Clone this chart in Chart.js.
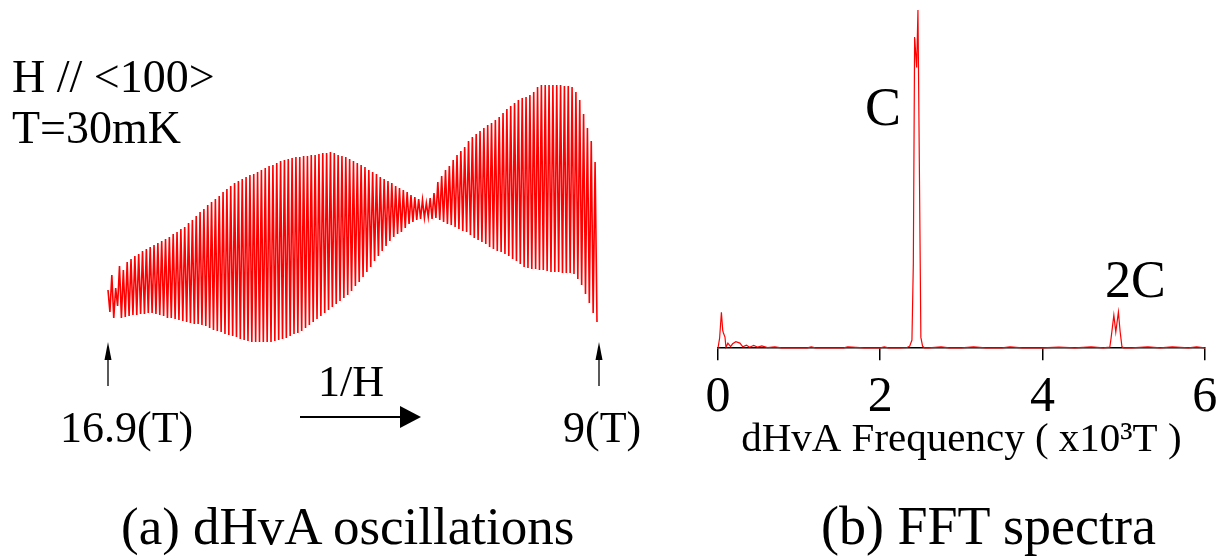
<!DOCTYPE html>
<html>
<head>
<meta charset="utf-8">
<script src="https://cdn.jsdelivr.net/npm/chart.js@4.4.1/dist/chart.umd.min.js"></script>
<style>
  html, body { margin: 0; padding: 0; background: #fff; }
  #page { position: relative; width: 1230px; height: 558px; overflow: hidden; background: #fff; }
  #page canvas, #page svg { position: absolute; }
  #osc { left: 100px; top: 50px; }
  #fft { left: 690px; top: 0px; }
  #notes { left: 0; top: 0; }
  #notes text { font-family: "Liberation Serif", "Times New Roman", serif; fill: #000; }
</style>
</head>
<body>
<div id="page">
  <canvas id="osc" width="510" height="320"></canvas>
  <canvas id="fft" width="540" height="465"></canvas>
  <svg id="notes" width="1230" height="558">
    <text x="12" y="92" font-size="46">H // &lt;100&gt;</text>
    <text x="12" y="143" font-size="46">T=30mK</text>
    <text x="60" y="442" font-size="44">16.9(T)</text>
    <text x="563" y="442" font-size="44">9(T)</text>
    <text x="318" y="396" font-size="44">1/H</text>
    <text x="865" y="125" font-size="54">C</text>
    <text x="1105" y="297" font-size="52">2C</text>
    <text x="121" y="544" font-size="53">(a) dHvA oscillations</text>
    <text x="821" y="544" font-size="54">(b) FFT spectra</text>
    <line x1="108" y1="386" x2="108" y2="356" stroke="#000" stroke-width="1.3"/>
    <polygon points="108,342 104.5,360 111.5,360" fill="#000"/>
    <line x1="599" y1="386" x2="599" y2="356" stroke="#000" stroke-width="1.3"/>
    <polygon points="599,342 595.5,360 602.5,360" fill="#000"/>
    <line x1="300" y1="417" x2="403" y2="417" stroke="#000" stroke-width="2"/>
    <polygon points="421,417 400,406 400,428" fill="#000"/>
  </svg>
</div>
<script>
// (a) dHvA oscillation: height of each maximum / minimum, one per cycle, left (16.9 T) to right (9 T)
const peaks = [
  70, 85, 72, 94, 90, 98, 101, 104, 106, 109,
  111, 113, 115, 117, 119, 121, 123, 126, 128, 131,
  133, 137, 140, 144, 148, 151, 155, 158, 161, 164,
  168, 171, 174, 177, 179, 181, 183, 185, 186, 188,
  190, 192, 194, 195, 197, 199, 200, 201, 202, 203,
  203, 204, 204, 205, 205, 206, 207, 207, 208, 207,
  205, 204, 203, 201, 199, 197, 195, 193, 190, 188,
  186, 183, 181, 179, 177, 174, 172, 170, 168, 165,
  163, 161, 160, 157, 162, 167, 178, 184, 190, 194,
  200, 205, 209, 213, 219, 223, 226, 229, 232, 235,
  237, 240, 243, 247, 251, 254, 257, 260, 262, 263,
  265, 268, 273, 275, 275, 275, 275, 275, 275, 274,
  274, 273, 268, 260, 246, 232, 219, 198
];
const troughs = [
  48, 42, 54, 42, 43, 44, 45, 45, 46, 46,
  47, 47, 46, 45, 44, 42, 42, 41, 40, 39,
  38, 37, 36, 36, 35, 34, 32, 30, 29, 28,
  26, 25, 24, 23, 21, 20, 19, 18, 18, 18,
  18, 18, 18, 19, 20, 21, 22, 24, 26, 27,
  29, 32, 35, 38, 41, 44, 47, 50, 53, 56,
  59, 62, 65, 69, 74, 78, 83, 88, 93, 99,
  104, 109, 114, 119, 123, 126, 128, 132, 136, 138,
  140, 141, 142, 143, 141, 142, 140, 138, 136, 135,
  133, 131, 129, 128, 125, 122, 120, 118, 116, 113,
  111, 109, 108, 106, 104, 101, 99, 96, 93, 92,
  91, 91, 90, 90, 89, 88, 88, 88, 87, 87,
  87, 86, 81, 75, 66, 57, 47, 38
];

// (b) FFT spectrum, frequency in 10^3 T, amplitude relative to the C peak
const freqs = [
  0, 0.02, 0.042, 0.058, 0.067, 0.086, 0.098, 0.122, 0.155, 0.18,
  0.22, 0.27, 0.306, 0.35, 0.39, 0.44, 0.49, 0.54, 0.61, 0.7,
  0.78, 0.9, 1.1, 1.15, 1.2, 1.4, 1.55, 1.6, 1.8, 2.0,
  2.05, 2.1, 2.25, 2.33, 2.363, 2.391, 2.408, 2.424, 2.449, 2.465,
  2.482, 2.501, 2.522, 2.547, 2.6, 2.75, 2.85, 3.0, 3.15, 3.3,
  3.5, 3.6, 3.75, 4.0, 4.2, 4.4, 4.6, 4.75, 4.83, 4.846,
  4.88, 4.904, 4.936, 4.957, 4.98, 5.0, 5.1, 5.3, 5.45, 5.6,
  5.8, 5.9, 6.0
];
const amps = [
  0, 3, 10.6, 5.3, 4.5, 3.3, 0.3, 1.5, 0.5, 1.3,
  1.9, 1.5, 0.4, 0.9, 0.3, 0.8, 0.3, 0.7, 0.2, 0.4,
  0.1, 0.1, 0.1, 0.4, 0.1, 0.1, 0.1, 0.4, 0.1, 0.1,
  0.4, 0.1, 0.1, 0.2, 0.6, 2.4, 25, 92, 83, 100,
  55, 3.2, 0.6, 0.1, 0.1, 0.4, 0.1, 0.1, 0.4, 0.1,
  0.1, 0.4, 0.1, 0.1, 0.3, 0.1, 0.4, 0.1, 0.3, 3,
  9.8, 4.8, 10.7, 5, 0.4, 0.1, 0.1, 0.4, 0.1, 0.4,
  0.1, 0.4, 0.1
];
const freqTicks = [0, 2, 4, 6];

const serif = "'Liberation Serif', 'Times New Roman', serif";

// zig-zag through the extrema
const oscValues = [];
peaks.forEach((p, i) => oscValues.push(p, troughs[i]));
const oscLabels = oscValues.map((_, i) => i);

new Chart(document.getElementById("osc"), {
  type: "line",
  data: {
    labels: oscLabels,
    datasets: [{
      data: oscValues,
      borderColor: "#ff0000",
      borderWidth: 1.6,
      pointRadius: 0,
      tension: 0,
      clip: false,
    }],
  },
  options: {
    responsive: false,
    animation: false,
    layout: { padding: { left: 8, right: 13, top: 10, bottom: 10 } },
    plugins: { legend: { display: false }, tooltip: { enabled: false } },
    scales: {
      x: { type: "category", display: false },
      y: { display: false, min: 0, max: 300 },
    },
  },
});

new Chart(document.getElementById("fft"), {
  type: "line",
  data: {
    datasets: [{
      data: freqs.map((f, i) => ({ x: f, y: amps[i] })),
      borderColor: "#ff0000",
      borderWidth: 1.2,
      pointRadius: 0,
      tension: 0,
      clip: false,
    }],
  },
  options: {
    responsive: false,
    animation: false,
    layout: { padding: { left: 28, right: 22, top: 10, bottom: 0 } },
    plugins: { legend: { display: false }, tooltip: { enabled: false } },
    scales: {
      x: {
        type: "linear",
        min: 0,
        max: 6,
        afterBuildTicks: (axis) => { axis.ticks = freqTicks.map((v) => ({ value: v })); },
        grid: { drawOnChartArea: false, drawTicks: true, tickLength: 12, color: "#000", lineWidth: 1.5 },
        border: { display: true, color: "#000", width: 1.5 },
        ticks: { color: "#000", padding: 12.8, font: { family: serif, size: 50, lineHeight: 1 } },
        title: {
          display: true,
          text: "dHvA Frequency ( x10³T )",
          color: "#000",
          font: { family: serif, size: 41 },
          padding: { top: -20, bottom: 0 },
        },
      },
      y: { display: false, min: 0, max: 100 },
    },
  },
});
</script>
</body>
</html>
